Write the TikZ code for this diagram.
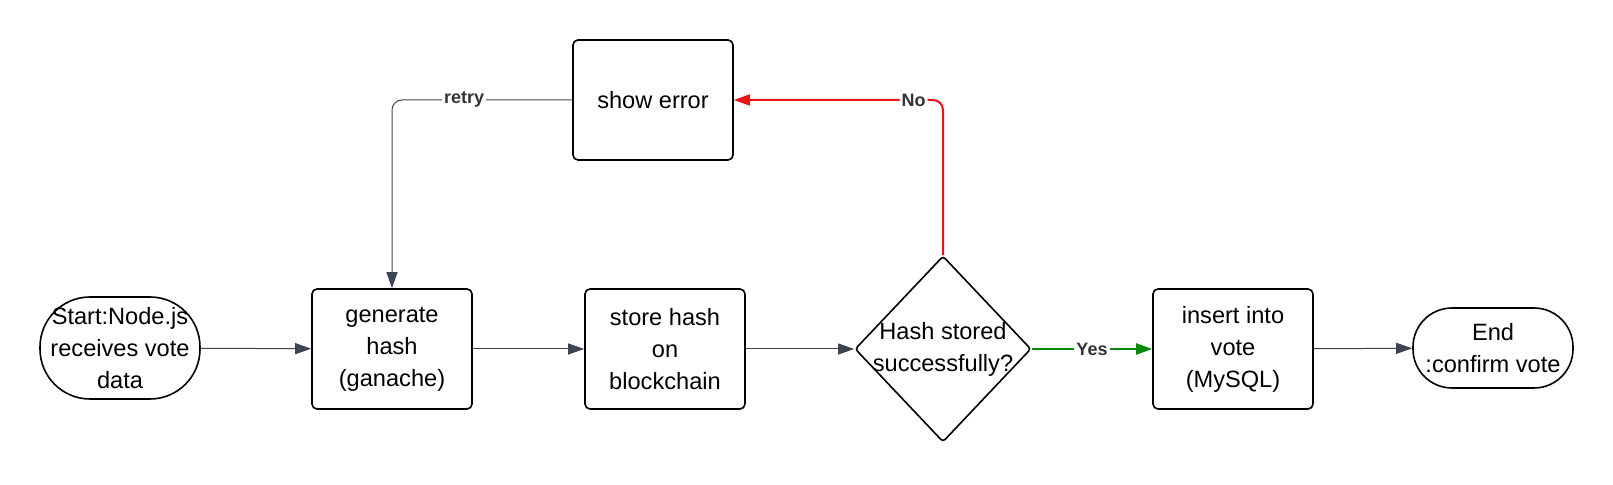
\documentclass[tikz,border=0pt]{standalone}
\usepackage{fontspec}
\setmainfont{Liberation Sans}
\usetikzlibrary{shapes.geometric,arrows.meta}

\definecolor{edgegrey}{HTML}{3D4451}
\definecolor{labelgrey}{HTML}{333333}
\definecolor{noRed}{HTML}{E8141A}
\definecolor{yesGreen}{HTML}{0A8A0A}

\tikzset{
	stepbox/.style={draw=black, line width=0.8pt, rounded corners=2.5pt, minimum width=80pt, minimum height=60pt, inner sep=0pt, align=center, font=\fontsize{11.8}{16}\selectfont},
	terminal/.style={draw=black, line width=0.8pt, minimum width=80pt, inner sep=0pt, align=center, font=\fontsize{11.8}{16}\selectfont},
	decision/.style={draw=black, line width=0.8pt, diamond, rounded corners=1.5pt, minimum width=88pt, minimum height=93pt, inner sep=-3pt, align=center, font=\fontsize{11.8}{16}\selectfont},
	flow/.style={draw=edgegrey, line width=0.5pt, -{Triangle[length=8pt,width=5.5pt]}},
	yesflow/.style={flow, draw=yesGreen, line width=1pt},
	noflow/.style={flow, draw=noRed, line width=1pt, rounded corners=5pt},
	lbl/.style={fill=white, inner sep=1pt, text=labelgrey, font=\bfseries\fontsize{9}{10}\selectfont}
}

\begin{document}
\begin{tikzpicture}[x=0.5pt, y=-0.5pt]
	\useasboundingbox (0,0) rectangle (1613,485);

	\node[terminal, minimum height=51pt, rounded corners=25pt] (start) at (120,348) {Start:Node.js\\receives vote\\data};
	\node[stepbox] (gen) at (392,349) {generate\\hash\\(ganache)};
	\node[stepbox] (store) at (665,349) {store hash\\on\\blockchain};
	\node[decision] (dec) at (943,349) {Hash stored\\successfully?};
	\node[stepbox] (ins) at (1233,349) {insert into\\vote\\(MySQL)};
	\node[terminal, minimum height=40pt, rounded corners=19.5pt] (end) at (1493,348) {End\\:confirm vote};
	\node[stepbox] (err) at (653,100) {show error};

	\draw[flow] (start) -- (gen);
	\draw[flow] (gen) -- (store);
	\draw[flow] (store) -- (dec);
	\draw[yesflow] (dec) -- node[lbl] {Yes} (ins);
	\draw[flow] (ins) -- (end);

	\draw[noflow] (dec.north) |- node[lbl, pos=0.57] {No} (err);
	\draw[flow, rounded corners=5pt] (err) -| node[lbl, pos=0.3] {retry} (gen);
\end{tikzpicture}
\end{document}
